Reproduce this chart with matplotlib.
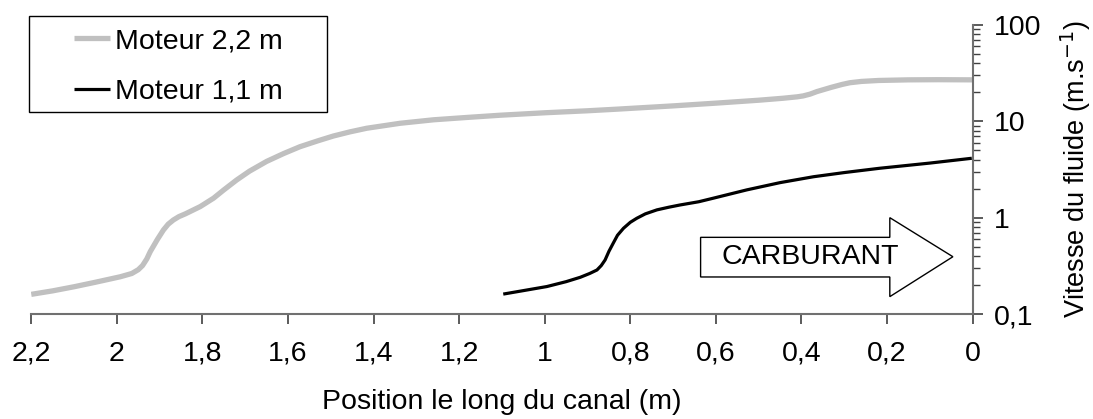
import numpy as np
import matplotlib
matplotlib.use("Agg")
import matplotlib.pyplot as plt
from matplotlib.patches import Polygon, Rectangle
from matplotlib.ticker import FixedLocator, FuncFormatter, LogLocator, NullFormatter

plt.rcParams['font.family'] = ['Liberation Sans', 'DejaVu Sans']

# Moteur 2,2 m (gris)
x_22 = [2.2, 2.15, 2.1, 2.05, 1.992, 1.965, 1.95, 1.94, 1.93, 1.922, 1.905,
        1.891, 1.88, 1.868, 1.855, 1.84, 1.805, 1.774, 1.75, 1.72, 1.69, 1.65,
        1.61, 1.572, 1.53, 1.494, 1.455, 1.416, 1.338, 1.26, 1.182, 1.104,
        1.0, 0.9, 0.832, 0.7, 0.598, 0.5, 0.443, 0.41, 0.396, 0.38, 0.364,
        0.33, 0.305, 0.287, 0.26, 0.22, 0.15, 0.08, 0.0]
v_22 = [0.161, 0.175, 0.193, 0.215, 0.245, 0.265, 0.29, 0.32, 0.375, 0.446,
        0.6, 0.75, 0.86, 0.95, 1.03, 1.1, 1.31, 1.6, 1.95, 2.47, 3.05, 3.85,
        4.65, 5.47, 6.3, 7.06, 7.8, 8.5, 9.57, 10.4, 11.0, 11.6, 12.3, 12.9,
        13.4, 14.5, 15.5, 16.6, 17.4, 18.0, 18.4, 19.2, 20.4, 22.6, 24.2,
        25.2, 26.0, 26.6, 27.0, 27.1, 27.0]

# Moteur 1,1 m (noir)
x_11 = [1.097, 1.05, 0.995, 0.95, 0.917, 0.895, 0.878, 0.868, 0.859, 0.85,
        0.840, 0.83, 0.816, 0.80, 0.785, 0.765, 0.738, 0.71, 0.684, 0.64,
        0.606, 0.528, 0.45, 0.372, 0.3, 0.217, 0.1, 0.002]
v_11 = [0.162, 0.176, 0.194, 0.218, 0.242, 0.265, 0.288, 0.32, 0.366, 0.45,
        0.546, 0.66, 0.78, 0.9, 0.99, 1.1, 1.21, 1.29, 1.36, 1.47, 1.6, 1.95,
        2.32, 2.67, 2.95, 3.27, 3.7, 4.15]

xticks = [2.2, 2.0, 1.8, 1.6, 1.4, 1.2, 1.0, 0.8, 0.6, 0.4, 0.2, 0.0]
yticks = [0.1, 1, 10, 100]

def comma(v, pos=None):
    return f"{v:g}".replace('.', ',')

fs = 20.5
fig = plt.figure(figsize=(10.93, 4.19), dpi=100)
ax = fig.add_axes([0.0286, 0.2499, 0.8613, 0.6904])

ax.plot(x_22, v_22, color='#c0c0c0', lw=3.8, solid_joinstyle='round',
        solid_capstyle='butt', label='Moteur 2,2 m')
ax.plot(x_11, v_11, color='black', lw=2.3, solid_joinstyle='round',
        solid_capstyle='butt', label='Moteur 1,1 m')

ax.set_yscale('log')
ax.set_xlim(2.2, 0)
ax.set_ylim(0.1, 100)

for side in ('top', 'left'):
    ax.spines[side].set_visible(False)
for side in ('bottom', 'right'):
    ax.spines[side].set_color('#707070')
    ax.spines[side].set_linewidth(1.5)

ax.xaxis.set_major_locator(FixedLocator(xticks))
ax.xaxis.set_major_formatter(FuncFormatter(comma))
ax.yaxis.tick_right()
ax.yaxis.set_label_position('right')
ax.yaxis.set_major_locator(FixedLocator(yticks))
ax.yaxis.set_major_formatter(FuncFormatter(comma))
ax.yaxis.set_minor_locator(LogLocator(base=10, subs=np.arange(2, 10)))
ax.yaxis.set_minor_formatter(NullFormatter())

ax.tick_params(axis='x', which='major', direction='out', length=7, width=1.2,
               color='#404040', labelsize=fs, pad=12)
ax.tick_params(axis='y', which='major', direction='out', length=7, width=1.2,
               color='#404040', labelsize=fs, pad=8)
ax.tick_params(axis='y', which='minor', direction='out', length=5, width=1.0,
               color='#404040')

ax.set_xlabel('Position le long du canal (m)', fontsize=fs, labelpad=16)
ax.set_ylabel('Vitesse du fluide (m.s$^{-1}$)', fontsize=19.5)
ax.yaxis.set_label_coords(1.091, 0.5)

# flèche CARBURANT (coordonnées d'axes)
arrow = Polygon([(0.711, 0.129), (0.711, 0.266), (0.912, 0.266), (0.912, 0.334),
                 (0.979, 0.199), (0.912, 0.061), (0.912, 0.129)],
                closed=True, transform=ax.transAxes, facecolor='white',
                edgecolor='black', lw=1.0, clip_on=False)
ax.add_patch(arrow)
ax.text(0.827, 0.199, 'CARBURANT', transform=ax.transAxes, fontsize=fs,
        ha='center', va='center')

# légende : cadre dessiné à part, sous le texte de la légende
ax.add_patch(Rectangle((0.0265, 0.732), 0.2727, 0.2305,
                       transform=fig.transFigure, facecolor='white',
                       edgecolor='black', lw=1.0, zorder=4, clip_on=False))
leg = ax.legend(loc='upper left', bbox_to_anchor=(0.0677, 0.933),
                bbox_transform=fig.transFigure, borderaxespad=0, fontsize=fs,
                frameon=False, handlelength=1.25, handletextpad=0.2,
                labelspacing=0.86, borderpad=0)
leg.set_zorder(6)

fig.savefig('out.png', dpi=100)
